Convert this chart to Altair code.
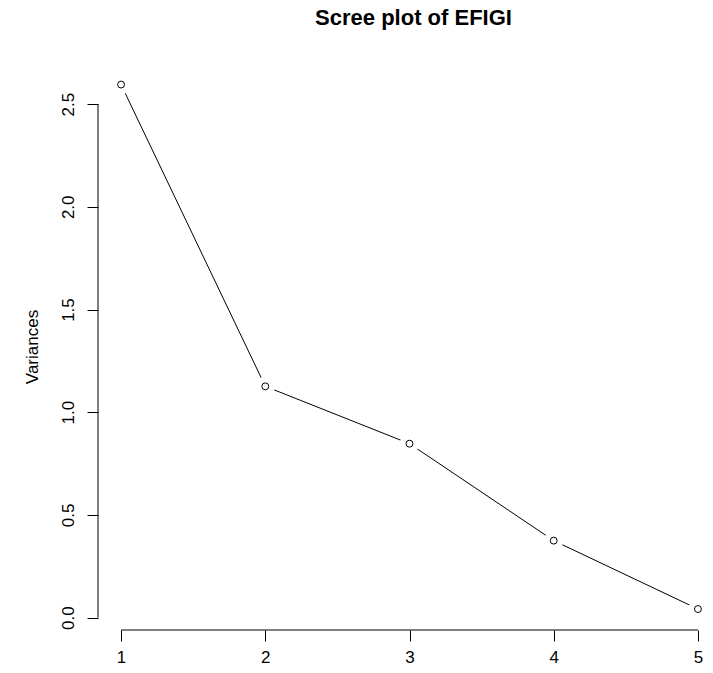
import altair as alt
import pandas as pd

# ---- data ----
components = [1, 2, 3, 4, 5]
variances = [2.595, 1.126, 0.847, 0.375, 0.042]
y_ticks = [0.0, 0.5, 1.0, 1.5, 2.0, 2.5]
x_ticks = [1, 2, 3, 4, 5]
chart_title = "Scree plot of EFIGI"
y_title = "Variances"

df = pd.DataFrame({"pc": components, "var": variances})
xline_df = pd.DataFrame({"pc": [min(x_ticks)], "pc2": [max(x_ticks)]})
yline_df = pd.DataFrame({"var": [min(y_ticks)], "var2": [max(y_ticks)]})

FONT = "Liberation Sans"
W, H = 607, 567
xs = alt.Scale(domain=[0.84, 5.049], nice=False, zero=False)
ys = alt.Scale(domain=[-0.06, 2.70], nice=False, zero=False)

xaxis = alt.Axis(values=x_ticks, format="d", domain=False, grid=False,
                 tickSize=11, tickColor="black", tickWidth=1,
                 labelFont=FONT, labelFontSize=17, labelColor="black",
                 labelPadding=8, labelFlush=False, title=None)
yaxis = alt.Axis(values=y_ticks, format=".1f", domain=False, grid=False,
                 tickSize=11, tickColor="black", tickWidth=1,
                 labelAngle=270, labelAlign="center", labelBaseline="bottom",
                 labelFont=FONT, labelFontSize=17, labelColor="black",
                 labelPadding=10, labelFlush=False,
                 title=y_title, titleFont=FONT, titleFontSize=17,
                 titleFontWeight="normal", titleColor="black", titlePadding=18)

X = alt.X("pc:Q", scale=xs, axis=xaxis, title=None)
Y = alt.Y("var:Q", scale=ys, axis=yaxis, title=y_title)

base = alt.Chart(df)
line = base.mark_line(color="black", strokeWidth=1).encode(x=X, y=Y)
gap = base.mark_point(shape="circle", filled=True, color="white",
                      opacity=1, size=380).encode(x=X, y=Y)
pts = base.mark_point(shape="circle", filled=False, color="black",
                      strokeWidth=1, opacity=1, size=48).encode(x=X, y=Y)
xline = alt.Chart(xline_df).mark_rule(color="black", strokeWidth=1).encode(
    x=X, x2="pc2:Q", y=alt.value(H),
)
yline = alt.Chart(yline_df).mark_rule(color="black", strokeWidth=1).encode(
    y=Y, y2="var2:Q", x=alt.value(0),
)

chart = alt.layer(line, gap, pts, xline, yline).properties(
    width=W, height=H,
    title=alt.TitleParams(chart_title, font=FONT, fontSize=22,
                          fontWeight="bold", color="black",
                          anchor="middle", dx=12, baseline="bottom",
                          offset=11),
    autosize=alt.AutoSizeParams(type="none"),
    padding={"left": 90, "top": 55, "right": 0, "bottom": 35},
).configure(background="white").configure_view(stroke=None)

chart.save("out.html", embed_options={"renderer": "svg", "actions": False})
